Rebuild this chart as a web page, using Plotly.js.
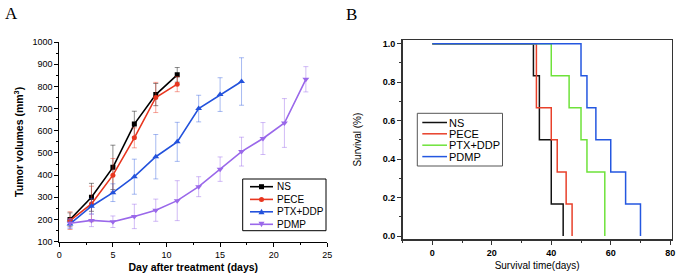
<!DOCTYPE html>
<html><head><meta charset="utf-8">
<script src="https://cdn.plot.ly/plotly-3.0.1.min.js"></script>
<style>html,body{margin:0;padding:0;background:#fff}</style>
</head><body><div id="chart" style="width:676px;height:275px"></div>
<script>
// ---------- Panel A: tumor volume ----------
const days = [1,3,5,7,9,11,13,15,17,19,21,23];
const nsVol   = [200,300,435,630,763,852];
const nsErr   = [30,63,100,58,50,33];
const peceVol = [195,270,400,568,750,810];
const peceErr = [40,80,75,45,68,34];
const ptxVol  = [180,260,321,393,483,550,700,763,822];
const ptxErr  = [20,35,40,79,100,88,60,76,107];
const pdmpVol = [183,196,190,214,242,285,348,427,506,565,635,832];
const pdmpErr = [20,28,26,55,50,90,45,55,65,72,110,57];
const namesA  = ['NS','PECE','PTX+DDP','PDMP'];
const colorsA = ['#000000','#e8361f','#2352dc','#9a68ea'];
const errColA = ['rgba(0,0,0,0.45)','rgba(232,54,31,0.45)','rgba(35,82,220,0.4)','rgba(154,104,234,0.45)'];
const symA    = ['square','circle','triangle-up','triangle-down'];

// ---------- Panel B: survival ----------
const nsT   = [0,34,36,40,44],          nsS   = [1,0.833,0.5,0.167,0];
const peceT = [0,35,40,42,45,47],       peceS = [1,0.667,0.5,0.333,0.167,0];
const ptxT  = [0,40,46,50,52,58],       ptxS  = [1,0.833,0.667,0.5,0.333,0];
const pdmpT = [0,50,52,55,60,65,70],    pdmpS = [1,0.833,0.667,0.5,0.333,0.167,0];
const namesB  = ['NS','PECE','PTX+DDP','PDMP'];
const colorsB = ['#111111','#e8402a','#6ee23a','#2457e0'];

const W = 676, H = 275;
const px = v => v / W, py = v => 1 - v / H;
const FONT = 'Liberation Sans, Arial, sans-serif';

const volA = [nsVol, peceVol, ptxVol, pdmpVol];
const errA = [nsErr, peceErr, ptxErr, pdmpErr];
const traces = [];
volA.forEach((v, i) => {
  traces.push({
    x: days.slice(0, v.length), y: v, xaxis: 'x', yaxis: 'y',
    type: 'scatter', mode: 'lines+markers', name: namesA[i], showlegend: false,
    line: {color: colorsA[i], width: 1.6},
    marker: {symbol: symA[i], size: i >= 2 ? 6 : 5, color: colorsA[i]},
    error_y: {type: 'data', array: errA[i], visible: true, color: errColA[i], thickness: 1, width: 2.5}
  });
});
const tB = [nsT, peceT, ptxT, pdmpT], sB = [nsS, peceS, ptxS, pdmpS];
tB.forEach((t, i) => {
  traces.push({
    x: t, y: sB[i], xaxis: 'x2', yaxis: 'y2', type: 'scatter', mode: 'lines',
    name: namesB[i], showlegend: false,
    line: {color: colorsB[i], width: 1.5, shape: 'hv'}
  });
});

// ---------- custom legends (layout decoration) ----------
const shapes = [], annotations = [];
// Legend A box
shapes.push({type:'rect', xref:'paper', yref:'paper', x0:px(242.7), x1:px(326), y0:py(179), y1:py(230.7),
  line:{color:'#000', width:1}, fillcolor:'rgba(0,0,0,0)'});
const legAy = [186.7, 199.4, 211.8, 224.3];
namesA.forEach((n, i) => {
  const y = legAy[i];
  shapes.push({type:'line', xref:'paper', yref:'paper', x0:px(250), x1:px(273), y0:py(y), y1:py(y),
    line:{color:colorsA[i], width:1.6}});
  const cx = 261.5, r = 2.5;
  if (symA[i] === 'square') {
    shapes.push({type:'rect', xref:'paper', yref:'paper', x0:px(cx-r), x1:px(cx+r), y0:py(y+r), y1:py(y-r),
      line:{width:0}, fillcolor:colorsA[i]});
  } else if (symA[i] === 'circle') {
    shapes.push({type:'circle', xref:'paper', yref:'paper', x0:px(cx-r), x1:px(cx+r), y0:py(y+r), y1:py(y-r),
      line:{width:0}, fillcolor:colorsA[i]});
  } else {
    const up = symA[i] === 'triangle-up';
    const a = up ? y - 3 : y + 3, b = up ? y + 2.5 : y - 2.5;
    shapes.push({type:'path', xref:'paper', yref:'paper',
      path:`M ${px(cx)} ${py(a)} L ${px(cx+3)} ${py(b)} L ${px(cx-3)} ${py(b)} Z`,
      line:{width:0}, fillcolor:colorsA[i]});
  }
  annotations.push({xref:'paper', yref:'paper', x:px(275), y:py(y), xanchor:'left', yanchor:'middle',
    text:n, showarrow:false, font:{family:FONT, size:10, color:'#000'}});
});
// Legend B box
shapes.push({type:'rect', xref:'paper', yref:'paper', x0:px(417.3), x1:px(502.5), y0:py(113.3), y1:py(166),
  line:{color:'#555', width:1}, fillcolor:'rgba(0,0,0,0)'});
const legBy = [122.5, 133.8, 145.2, 156.6];
namesB.forEach((n, i) => {
  const y = legBy[i];
  shapes.push({type:'line', xref:'paper', yref:'paper', x0:px(422.3), x1:px(447), y0:py(y), y1:py(y),
    line:{color:colorsB[i], width:1.5}});
  annotations.push({xref:'paper', yref:'paper', x:px(447), y:py(y), xanchor:'left', yanchor:'middle',
    text:n, showarrow:false, font:{family:FONT, size:11, color:'#000'}});
});
// Panel letters
annotations.push({xref:'paper', yref:'paper', x:px(3), y:py(2), xanchor:'left', yanchor:'top', text:'A',
  showarrow:false, font:{family:'Liberation Serif, Times New Roman, serif', size:17, color:'#000'}});
annotations.push({xref:'paper', yref:'paper', x:px(344), y:py(3), xanchor:'left', yanchor:'top', text:'B',
  showarrow:false, font:{family:'Liberation Serif, Times New Roman, serif', size:17, color:'#000'}});

const axA = {showgrid:false, zeroline:false, showline:true, linecolor:'#000', linewidth:1,
  ticks:'outside', ticklen:4, tickwidth:1, tickcolor:'#000',
  tickfont:{family:FONT, size:9, color:'#000'}};
const axB = {showgrid:false, zeroline:false, showline:true, linecolor:'#333', linewidth:1.5, mirror:true,
  ticks:'outside', ticklen:4, tickwidth:1, tickcolor:'#333',
  tickfont:{family:FONT, size:9, color:'#000', weight:'bold'}};

const layout = {
  width: W, height: H, margin:{l:0, r:0, t:0, b:0},
  paper_bgcolor:'#fff', plot_bgcolor:'rgba(0,0,0,0)', showlegend:false,
  font:{family:FONT, color:'#000'},
  xaxis: Object.assign({}, axA, {domain:[px(59.3), px(327.3)], range:[0,25], dtick:5, tick0:0, anchor:'y',
    minor:{dtick:2.5, ticks:'outside', ticklen:2, tickcolor:'#000'},
    title:{text:'Day after treatment (days)', standoff:5, font:{family:FONT, size:10.5, weight:'bold', color:'#000'}}}),
  yaxis: Object.assign({}, axA, {domain:[py(241.7), py(42)], range:[100,1000], dtick:100, tick0:0, anchor:'x',
    minor:{dtick:50, ticks:'outside', ticklen:2, tickcolor:'#000'},
    title:{text:'Tumor volumes (mm<sup>3</sup>)', standoff:6, font:{family:FONT, size:10.5, weight:'bold', color:'#000'}}}),
  xaxis2: Object.assign({}, axB, {domain:[px(402.6), px(671.7)], range:[-10,80.5], dtick:20, tick0:0, anchor:'y2',
    minor:{dtick:10, ticks:'outside', ticklen:2, tickcolor:'#333'},
    title:{text:'Survival time(days)', standoff:5, font:{family:FONT, size:10, color:'#000'}}}),
  yaxis2: Object.assign({}, axB, {domain:[py(239.3), py(40)], range:[-0.017,1.019], dtick:0.2, tick0:0,
    tickformat:'.1f', anchor:'x2',
    minor:{dtick:0.1, ticks:'outside', ticklen:2, tickcolor:'#333'},
    title:{text:'Survival (%)', standoff:19, font:{family:FONT, size:10, color:'#000'}}}),
  shapes, annotations
};
Plotly.newPlot('chart', traces, layout, {displayModeBar:false, staticPlot:true});
</script></body></html>
